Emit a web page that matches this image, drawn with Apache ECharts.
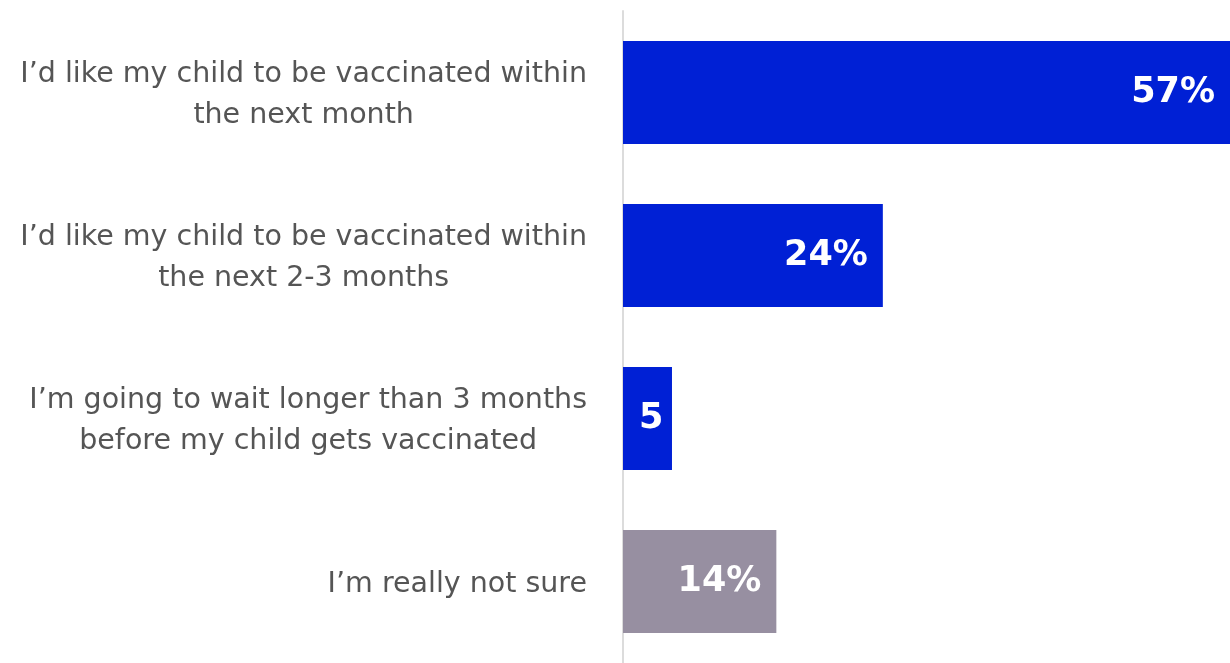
<!DOCTYPE html>
<html><head><meta charset="utf-8">
<script src="https://cdn.jsdelivr.net/npm/echarts@6/dist/echarts.min.js"></script>
<style>html,body{margin:0;padding:0;background:#fff}#c{width:1230px;height:663px}</style>
</head><body><div id="c"></div>
<script>
const categories = [
  "I’d like my child to be vaccinated within\nthe next month",
  "I’d like my child to be vaccinated within\nthe next 2-3 months",
  "I’m going to wait longer than 3 months\nbefore my child gets vaccinated",
  "I’m really not sure"
];
const values = [57, 24.4, 4.6, 14.4];
const barColors = ["#0020D5", "#0020D5", "#0020D5", "#978FA1"];

const chart = echarts.init(document.getElementById('c'));
const data = values.map((v, i) => {
  const item = { value: v, itemStyle: { color: barColors[i] } };
  if (v < 8) {
    item.label = { position: 'insideLeft', distance: 16, overflow: 'truncate', width: 40, ellipsis: '' };
  }
  return item;
});
chart.setOption({
  animation: false,
  grid: { left: 623, right: -4, top: 11, height: 656, containLabel: false },
  xAxis: { type: 'value', min: 0, max: 57, show: false },
  yAxis: {
    type: 'category', data: categories, inverse: true,
    axisLine: { show: true, lineStyle: { color: '#dcdcdc', width: 2 } },
    axisTick: { show: false },
    axisLabel: {
      margin: 36, align: 'right', padding: [6, 0, 0, 0],
      formatter: v => v.split('\n').map(s => '{c|' + s + '}').join('\n'),
      rich: { c: { color: '#555555', fontSize: 28.5, lineHeight: 41, fontFamily: 'DejaVu Sans', align: 'center' } }
    }
  },
  series: [{
    type: 'bar', data: data, barWidth: 103,
    label: {
      show: true, position: 'insideRight', distance: 15,
      formatter: p => Math.round(p.value) + '%',
      color: '#fff', fontSize: 35, fontWeight: 'bold', fontFamily: 'DejaVu Sans'
    }
  }]
});
</script></body></html>
